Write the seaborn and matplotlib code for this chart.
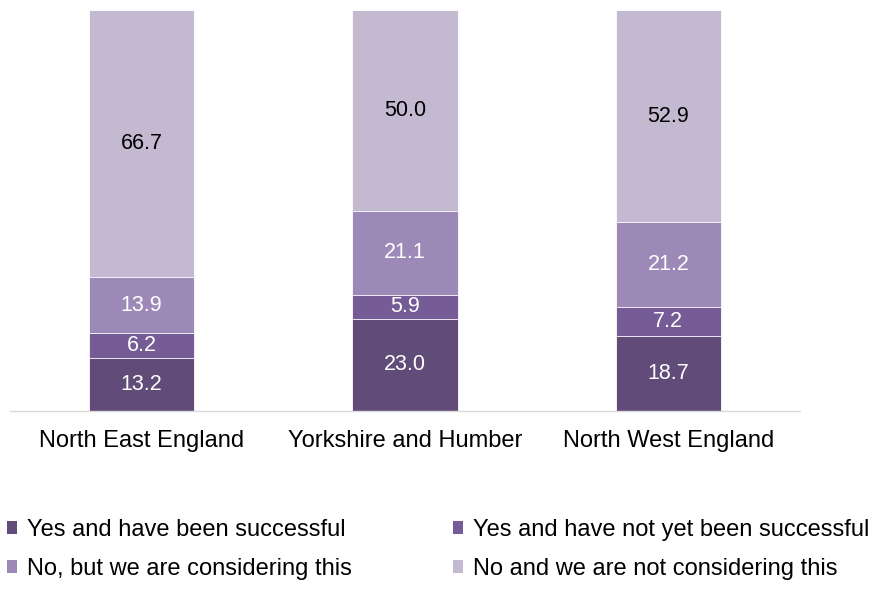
import numpy as np
import pandas as pd
import matplotlib
matplotlib.use("Agg")
import matplotlib.pyplot as plt
from matplotlib.patches import Patch
import seaborn as sns

regions = ["North East England", "Yorkshire and Humber", "North West England"]
series_names = [
    "Yes and have been successful",
    "Yes and have not yet been successful",
    "No, but we are considering this",
    "No and we are not considering this",
]
yes_success = [13.2, 23.0, 18.7]
yes_not_yet = [6.2, 5.9, 7.2]
no_considering = [13.9, 21.1, 21.2]
no_not_considering = [66.7, 50.0, 52.9]

colors = ["#614B79", "#765C97", "#9C89B8", "#C3B9D1"]
label_colors = ["white", "white", "white", "black"]

sns.set_theme(style="white")
plt.rcParams["font.family"] = ["Liberation Sans", "DejaVu Sans"]
plt.rcParams["text.color"] = "black"

values = np.array([yes_success, yes_not_yet, no_considering, no_not_considering])
cum = values.cumsum(axis=0)

fig = plt.figure(figsize=(8.74, 5.9), dpi=100)
ax = fig.add_axes([10 / 874, 179 / 590, 790 / 874, 401 / 590])

# draw tallest layer first so lower segments sit on top
for i in reversed(range(len(series_names))):
    df = pd.DataFrame({"region": regions, "value": cum[i]})
    sns.barplot(data=df, x="region", y="value", color=colors[i], width=0.4,
                saturation=1, ax=ax, edgecolor="white", linewidth=0.6)

for i in range(len(series_names)):
    for j in range(len(regions)):
        ax.text(j, cum[i, j] - values[i, j] / 2, f"{values[i, j]:.1f}",
                ha="center", va="center", fontsize=15.5, color=label_colors[i])

ax.set_xlim(-0.5, 2.5)
ax.set_ylim(0, 100)
ax.set_xlabel("")
ax.set_ylabel("")
ax.set_yticks([])
ax.tick_params(axis="x", labelsize=17, length=0, pad=14, labelcolor="black")
for s in ["top", "left", "right"]:
    ax.spines[s].set_visible(False)
ax.spines["bottom"].set_color("#D9D9D9")
ax.spines["bottom"].set_linewidth(1)

# two legend columns placed separately
columns = [([0, 2], 7), ([1, 3], 453)]
for idx, xpix in columns:
    handles = [Patch(facecolor=colors[k], edgecolor="none") for k in idx]
    labels = [series_names[k] for k in idx]
    leg = fig.legend(handles, labels, loc="upper left",
                     bbox_to_anchor=(xpix / 874, 1 - 519 / 590), frameon=False,
                     fontsize=17, handlelength=0.42, handleheight=0.42,
                     handletextpad=0.42, labelspacing=0.72,
                     borderpad=0, borderaxespad=0, labelcolor="black")

fig.savefig("out.png", dpi=100)
